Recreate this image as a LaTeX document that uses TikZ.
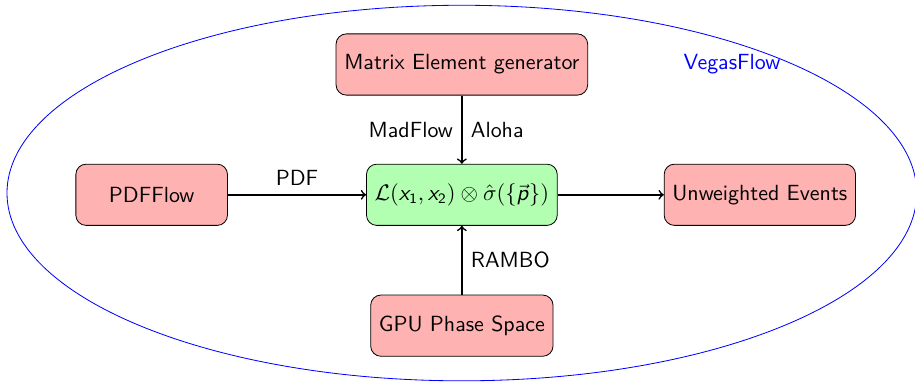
\documentclass[tikz,border=0pt]{standalone}
\usetikzlibrary{positioning}
\DeclareMathAlphabet{\mathsfit}{OT1}{cmss}{m}{sl}
\DeclareMathAlphabet{\mathsfup}{OT1}{cmss}{m}{n}
\tikzset{
  every node/.style={font=\fontsize{10.7}{13}\selectfont\sffamily},
  flowbox/.style={draw,rounded corners=5pt,fill=red!30,minimum width=2.6cm,minimum height=1.05cm,inner sep=4pt},
  corebox/.style={flowbox,fill=green!30},
  flowarrow/.style={->,thick},
  arrowlabel/.style={inner sep=4pt}
}

\begin{document}
\begin{tikzpicture}
  \useasboundingbox (-7.92,-3.26) rectangle (7.77,3.31);
  \draw[blue] (0,0) ellipse (7.8cm and 3.22cm);
  \node[text=blue] (vegas) at (4.63,2.21) {VegasFlow};

  \node[corebox] (core) at (0,-0.03)
    {$\mathcal{L}(\mathsfit{x}_{\mathsfup{1}},\mathsfit{x}_{\mathsfup{2}})\otimes\hat{\sigma}(\{\vec{\mathsfit{p}}\})$};
  \node[flowbox,above=1.17cm of core] (matrix) {Matrix Element generator};
  \node[flowbox,left=2.37cm of core] (pdfflow) {PDFFlow};
  \node[flowbox,right=1.82cm of core] (events) {Unweighted Events};
  \node[flowbox,below=1.18cm of core] (phase) {GPU Phase Space};

  \draw[flowarrow] (pdfflow) -- node[above,arrowlabel] {PDF} (core);
  \draw[flowarrow] (matrix) -- node[left,arrowlabel] {MadFlow} node[right,arrowlabel] {Aloha} (core);
  \draw[flowarrow] (phase) -- node[right,arrowlabel] {RAMBO} (core);
  \draw[flowarrow] (core) -- (events);
\end{tikzpicture}
\end{document}
